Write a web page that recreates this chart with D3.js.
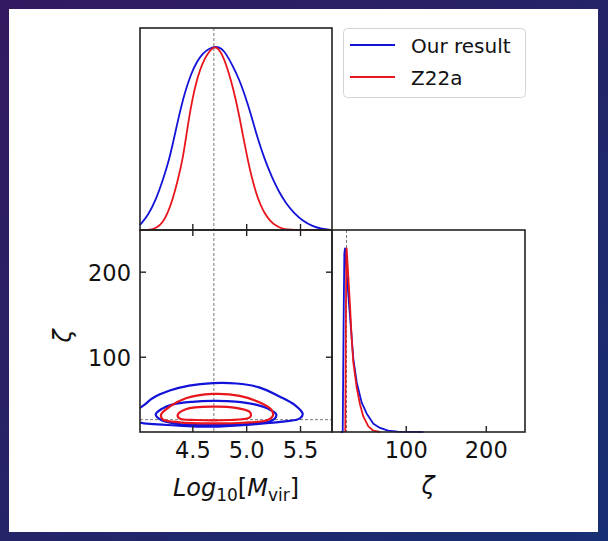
<!DOCTYPE html>
<html>
<head>
<meta charset="utf-8">
<script src="https://cdn.jsdelivr.net/npm/d3@7"></script>
<style>
  html, body { margin: 0; padding: 0; }
  body { width: 608px; height: 541px; overflow: hidden; }
</style>
</head>
<body>
<svg id="chart" width="608" height="541"></svg>
<script>
// ---- data ----
var massTicks = [4.5, 5.0, 5.5];
var zetaTicks = [100, 200];
var massTrue = 4.7;
var zetaTrue = 26;
var legendLabels = ["Our result", "Z22a"];

// 1D marginal of log10(Mvir), peak normalised to 1  [mass, density]
var massBlue = [[4.014,0.027],[4.09,0.08],[4.163,0.167],[4.22,0.26],[4.286,0.384],[4.33,0.50],[4.379,0.63],
  [4.43,0.75],[4.488,0.85],[4.54,0.915],[4.596,0.962],[4.66,0.99],[4.72,1.0],[4.77,0.99],[4.813,0.96],
  [4.87,0.90],[4.936,0.82],[4.99,0.73],[5.045,0.63],[5.10,0.51],[5.168,0.39],[5.24,0.285],[5.307,0.205],
  [5.37,0.145],[5.447,0.09],[5.53,0.048],[5.617,0.02],[5.70,0.006],[5.797,0]];
var massRed = [[4.014,0],[4.116,0],[4.17,0.012],[4.225,0.04],[4.27,0.09],[4.318,0.167],[4.365,0.27],[4.41,0.384],
  [4.44,0.50],[4.472,0.62],[4.50,0.71],[4.534,0.80],[4.57,0.87],[4.611,0.93],[4.66,0.975],[4.704,1.0],
  [4.74,0.99],[4.782,0.95],[4.82,0.89],[4.859,0.815],[4.90,0.72],[4.936,0.62],[4.975,0.50],[5.014,0.384],
  [5.05,0.29],[5.091,0.203],[5.13,0.14],[5.168,0.094],[5.22,0.05],[5.277,0.022],[5.34,0.006],[5.40,0],[5.797,0]];

// 1D marginal of zeta  [zeta, density]
var zetaBlue = [[18.8,0],[21.3,0],[22.4,0.6],[23.3,0.97],[24.1,1.0],[27,0.82],[30.4,0.63],[34.5,0.40],
  [38.8,0.27],[45,0.16],[51.3,0.10],[59.6,0.045],[67.9,0.022],[78,0.007],[90,0.002],[122,0]];
var zetaRed = [[24.5,0],[25.2,0.6],[25.8,0.97],[26.2,1.0],[30.4,0.69],[32.5,0.51],[34.5,0.38],[38.8,0.24],
  [42.9,0.15],[47,0.085],[53.3,0.031],[59.6,0.007],[68,0]];

// 2D contours  [mass, zeta]
var blueOuter = [[3.92,31],[3.97,36.5],[4.05,43],[4.13,51.2],[4.29,60.2],[4.47,66.1],[4.69,69],[4.91,68.5],
  [5.12,64],[5.31,53.2],[5.45,43.3],[5.525,32.7],[5.50,27.6],[5.34,23.6],[5.06,20.5],[4.69,17.7],[4.35,19.2],
  [4.01,22.6],[3.95,26]];
var blueInner = [[4.16,32],[4.22,39],[4.32,44],[4.50,47],[4.69,48],[4.90,47.3],[5.08,44],[5.20,39],[5.28,32],
  [5.24,25],[5.05,21],[4.69,19.8],[4.40,20.5],[4.22,25]];
var redOuter = [[4.21,32],[4.29,41.3],[4.44,51.2],[4.69,56.3],[4.94,54],[5.12,46.5],[5.23,38.3],[5.25,31.5],
  [5.20,25.6],[4.97,22.4],[4.69,21.7],[4.38,22.9],[4.225,26.4]];
var redInner = [[4.364,31.5],[4.44,38.3],[4.69,41.3],[4.905,39.8],[5.03,35.4],[5.045,31.5],[5.03,28.4],
  [4.84,25.6],[4.534,25.6],[4.38,27.6]];

var blue = "#1212d8", red = "#e8161c", ink = "#222", font = "DejaVu Sans";

var svg = d3.select("#chart");
var defs = svg.append("defs");

// slide background + white card
var grad = defs.append("linearGradient").attr("id", "bg")
  .attr("x1", "0").attr("y1", "0").attr("x2", "1").attr("y2", "1");
grad.append("stop").attr("offset", "0%").attr("stop-color", "#33195f");
grad.append("stop").attr("offset", "100%").attr("stop-color", "#172f73");
svg.append("rect").attr("width", 608).attr("height", 541).attr("fill", "url(#bg)");
svg.append("rect").attr("x", 9).attr("y", 9).attr("width", 589).attr("height", 523).attr("fill", "#fff");

// scales
var xM = d3.scaleLinear().domain([4.014, 5.797]).range([140, 332]);
var yZ = d3.scaleLinear().domain([11.5, 249]).range([432, 230]);
var xZ = d3.scaleLinear().domain([7.9, 249]).range([332, 525]);
var yTop = d3.scaleLinear().domain([0, 1.1]).range([230, 28]);
var yRight = d3.scaleLinear().domain([0, 1.1]).range([432, 230]);

defs.append("clipPath").attr("id", "clip2d")
  .append("rect").attr("x", 140).attr("y", 230).attr("width", 192).attr("height", 202);

// truth lines
var truth = svg.append("g").attr("stroke", "#555").attr("stroke-width", 0.8)
  .attr("stroke-dasharray", "3,2");
truth.append("line").attr("x1", xM(massTrue)).attr("x2", xM(massTrue)).attr("y1", 28).attr("y2", 432);
truth.append("line").attr("x1", 140).attr("x2", 332).attr("y1", yZ(zetaTrue)).attr("y2", yZ(zetaTrue));
truth.append("line").attr("x1", xZ(zetaTrue)).attr("x2", xZ(zetaTrue)).attr("y1", 230).attr("y2", 432);

// top marginal
var lineTop = d3.line().x(function(d) { return xM(d[0]); }).y(function(d) { return yTop(d[1]); })
  .curve(d3.curveBasis);
svg.append("path").datum(massBlue).attr("d", lineTop).attr("fill", "none").attr("stroke", blue).attr("stroke-width", 1.8);
svg.append("path").datum(massRed).attr("d", lineTop).attr("fill", "none").attr("stroke", red).attr("stroke-width", 1.8);

// right marginal
var lineRight = d3.line().x(function(d) { return xZ(d[0]); }).y(function(d) { return yRight(d[1]); });
svg.append("path").datum(zetaBlue).attr("d", lineRight).attr("fill", "none").attr("stroke", blue)
  .attr("stroke-width", 1.8).attr("stroke-linejoin", "round");
svg.append("path").datum(zetaRed).attr("d", lineRight).attr("fill", "none").attr("stroke", red)
  .attr("stroke-width", 1.8).attr("stroke-linejoin", "round");

// contours
var contour = d3.line().x(function(d) { return xM(d[0]); }).y(function(d) { return yZ(d[1]); })
  .curve(d3.curveCatmullRomClosed.alpha(0.5));
var cg = svg.append("g").attr("clip-path", "url(#clip2d)").attr("fill", "none").attr("stroke-width", 2.2);
[[blueOuter, blue], [blueInner, blue], [redOuter, red], [redInner, red]].forEach(function(c) {
  cg.append("path").datum(c[0]).attr("d", contour).attr("stroke", c[1]);
});

// axes
function styleAxis(g) {
  g.select(".domain").remove();
  g.selectAll(".tick line").attr("stroke", ink).attr("stroke-width", 1.4);
  g.selectAll("text").attr("font-family", font).attr("font-size", 22.5).attr("fill", "#111");
}
svg.append("g").attr("transform", "translate(0,432)")
  .call(d3.axisBottom(xM).tickValues(massTicks).tickSizeInner(-6).tickSizeOuter(0).tickPadding(10)
    .tickFormat(d3.format(".1f")))
  .call(styleAxis);
svg.append("g").attr("transform", "translate(0,230)")
  .call(d3.axisTop(xM).tickValues(massTicks).tickSizeInner(-6).tickSizeOuter(0).tickFormat(""))
  .call(styleAxis);
svg.append("g").attr("transform", "translate(0,230)")
  .call(d3.axisBottom(xM).tickValues(massTicks).tickSizeInner(-6).tickSizeOuter(0).tickFormat(""))
  .call(styleAxis);
svg.append("g").attr("transform", "translate(140,0)")
  .call(d3.axisLeft(yZ).tickValues(zetaTicks).tickSizeInner(-6).tickSizeOuter(0).tickPadding(9))
  .call(styleAxis)
  .selectAll("text").attr("dy", "0.4em");
svg.append("g").attr("transform", "translate(332,0)")
  .call(d3.axisRight(yZ).tickValues(zetaTicks).tickSizeInner(-6).tickSizeOuter(0).tickFormat(""))
  .call(styleAxis);
svg.append("g").attr("transform", "translate(0,432)")
  .call(d3.axisBottom(xZ).tickValues(zetaTicks).tickSizeInner(-6).tickSizeOuter(0).tickPadding(10))
  .call(styleAxis);

// panel frames
var frames = [[140, 28, 192, 202], [140, 230, 192, 202], [332, 230, 193, 202]];
svg.selectAll(".frame").data(frames).enter().append("rect").attr("class", "frame")
  .attr("x", function(d) { return d[0]; }).attr("y", function(d) { return d[1]; })
  .attr("width", function(d) { return d[2]; }).attr("height", function(d) { return d[3]; })
  .attr("fill", "none").attr("stroke", ink).attr("stroke-width", 1.6);

// axis labels
var xl = svg.append("text").attr("x", 236).attr("y", 496).attr("text-anchor", "middle")
  .attr("font-family", font).attr("font-size", 24).attr("fill", "#111");
xl.append("tspan").attr("font-style", "italic").text("Log");
xl.append("tspan").attr("font-size", 17).attr("dy", 5).text("10");
xl.append("tspan").attr("dy", -5).text("[");
xl.append("tspan").attr("font-style", "italic").text("M");
xl.append("tspan").attr("font-size", 17).attr("dy", 5).text("vir");
xl.append("tspan").attr("dy", -5).text("]");

svg.append("text").attr("x", 428).attr("y", 494).attr("text-anchor", "middle")
  .attr("font-family", font).attr("font-style", "italic").attr("font-size", 24).attr("fill", "#111").text("ζ");
svg.append("text").attr("transform", "translate(71,336) rotate(-90)").attr("text-anchor", "middle")
  .attr("font-family", font).attr("font-style", "italic").attr("font-size", 24).attr("fill", "#111").text("ζ");

// legend
var lg = svg.append("g");
lg.append("rect").attr("x", 343.5).attr("y", 28.5).attr("width", 182).attr("height", 69).attr("rx", 4)
  .attr("fill", "#fff").attr("stroke", "#d4d4d4").attr("stroke-width", 1);
var items = lg.selectAll(".item").data(legendLabels).enter().append("g")
  .attr("transform", function(d, i) { return "translate(0," + (45 + i * 32) + ")"; });
items.append("line").attr("x1", 350).attr("x2", 395).attr("y1", 0).attr("y2", 0)
  .attr("stroke", function(d, i) { return i === 0 ? blue : red; }).attr("stroke-width", 1.8);
items.append("text").attr("x", 411).attr("y", 8).attr("font-family", font).attr("font-size", 20)
  .attr("fill", "#111").text(function(d) { return d; });
</script>
</body>
</html>
